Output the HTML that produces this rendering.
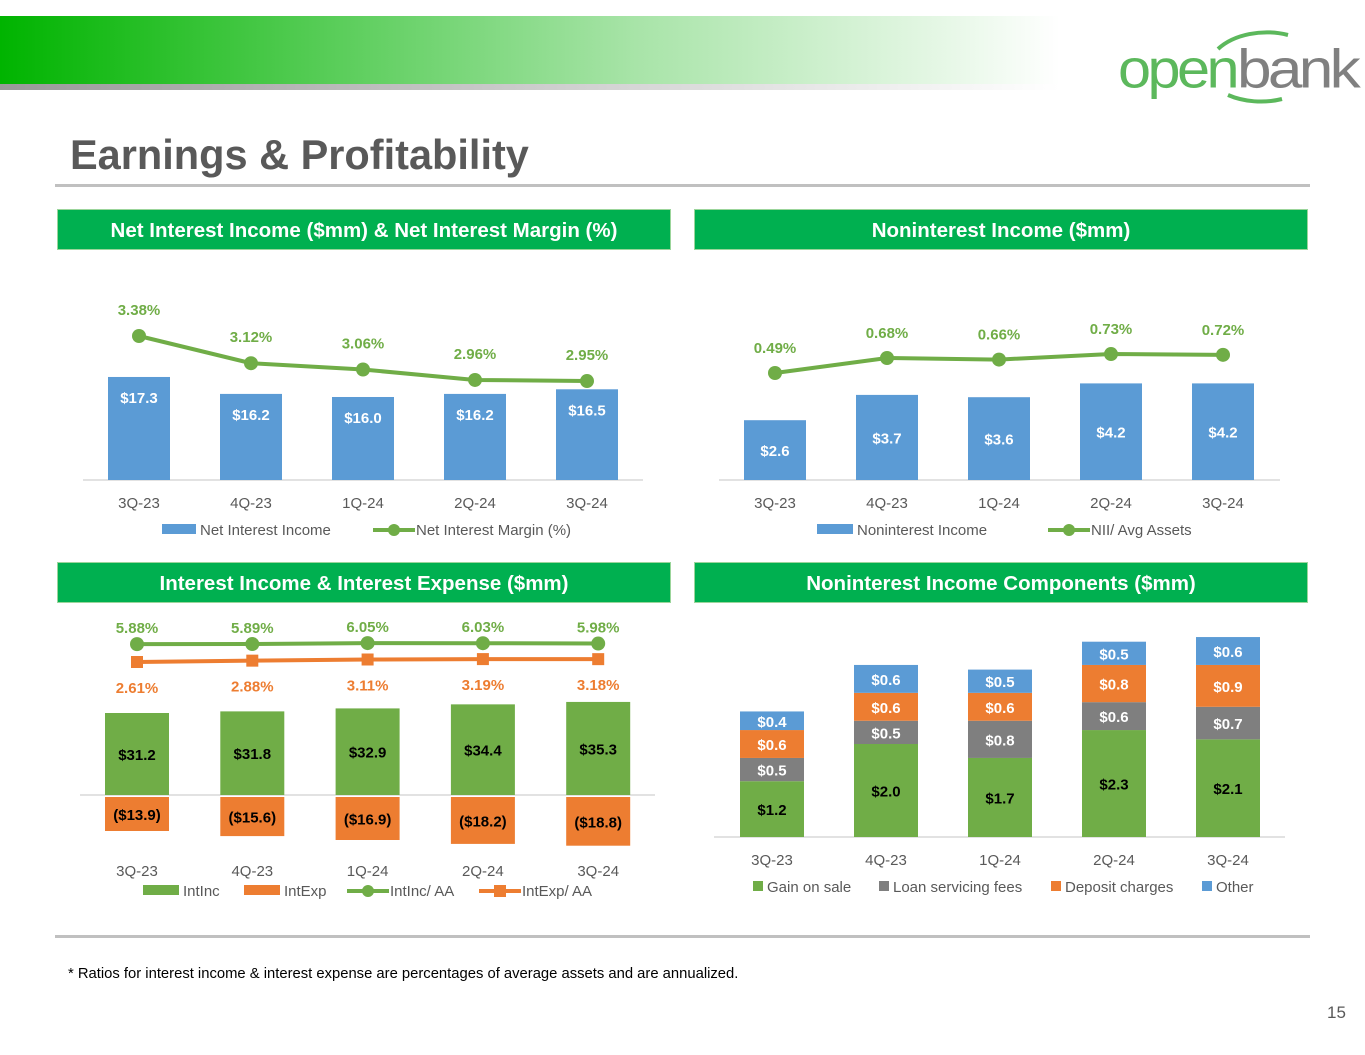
<!DOCTYPE html>
<html><head><meta charset="utf-8"><style>
body{margin:0;width:1365px;height:1055px;background:#fff;font-family:"Liberation Sans",sans-serif;position:relative;overflow:hidden}
.hb{position:absolute;background:#00b050;color:#fff;font-weight:bold;font-size:20.5px;text-align:center;line-height:41px;height:41px;border:1px solid #9bd59b;box-sizing:border-box}
svg text{font-family:"Liberation Sans",sans-serif}
</style></head><body>
<div style="position:absolute;left:0;top:16px;width:1060px;height:68px;background:linear-gradient(90deg,#00b400 0%,#55cc55 30%,#a8e4a8 60%,#e8f8e8 90%,#fff 100%)"></div>
<div style="position:absolute;left:0;top:84px;width:1060px;height:6px;background:linear-gradient(90deg,#999 0%,#ccc 50%,#fff 100%)"></div>
<svg style="position:absolute;left:1110px;top:15px" width="255" height="100">
<path d="M108 34 A60 40 0 0 1 178 20" stroke="#5cb85c" stroke-width="4" fill="none"/>
<path d="M118 80 A60 40 0 0 0 172 84" stroke="#5cb85c" stroke-width="4" fill="none"/>
<text x="8" y="66" font-size="50" fill="#5cb85c" transform="scale(1,1.1)" style="letter-spacing:-3px" textLength="118" lengthAdjust="spacingAndGlyphs">open</text>
<text x="127" y="66" font-size="50" fill="#808080" transform="scale(1,1.1)" style="letter-spacing:-3px" textLength="120" lengthAdjust="spacingAndGlyphs">bank</text>
</svg>
<div style="position:absolute;left:70px;top:131px;font-size:41.5px;font-weight:bold;color:#595959">Earnings &amp; Profitability</div>
<div style="position:absolute;left:55px;top:184px;width:1255px;height:3px;background:#c0c0c0"></div>
<div class="hb" style="left:57px;top:209px;width:614px">Net Interest Income ($mm) &amp; Net Interest Margin (%)</div>
<div class="hb" style="left:694px;top:209px;width:614px">Noninterest Income ($mm)</div>
<div class="hb" style="left:57px;top:562px;width:614px">Interest Income &amp; Interest Expense ($mm)</div>
<div class="hb" style="left:694px;top:562px;width:614px">Noninterest Income Components ($mm)</div>
<div style="position:absolute;left:55px;top:935px;width:1255px;height:3px;background:#c0c0c0"></div>
<div style="position:absolute;left:68px;top:966px;font-size:14.8px;color:#000">* Ratios for interest income &amp; interest expense are percentages of average assets and are annualized.</div>
<div style="position:absolute;left:1327px;top:1003px;font-size:17px;color:#595959">15</div>
<svg id="c" width="1365" height="1055" style="position:absolute;left:0;top:0"></svg>
<script>
const quarters=["3Q-23","4Q-23","1Q-24","2Q-24","3Q-24"];
const niiValues=[17.3,16.2,16.0,16.2,16.5];
const nimValues=[3.38,3.12,3.06,2.96,2.95];
const nonIntValues=[2.6,3.7,3.6,4.2,4.2];
const niiAvgAssets=[0.49,0.68,0.66,0.73,0.72];
const intIncValues=[31.2,31.8,32.9,34.4,35.3];
const intExpValues=[13.9,15.6,16.9,18.2,18.8];
const intIncAA=[5.88,5.89,6.05,6.03,5.98];
const intExpAA=[2.61,2.88,3.11,3.19,3.18];
const gainOnSale=[1.2,2.0,1.7,2.3,2.1];
const loanServicing=[0.5,0.5,0.8,0.6,0.7];
const depositCharges=[0.6,0.6,0.6,0.8,0.9];
const otherIncome=[0.4,0.6,0.5,0.5,0.6];
const S=document.getElementById('c');const NS="http://www.w3.org/2000/svg";
function el(t,a,txt){const e=document.createElementNS(NS,t);for(const k in a)e.setAttribute(k,a[k]);if(txt!==undefined)e.textContent=txt;S.appendChild(e);return e;}
const BLUE="#5b9bd5",GREEN="#70ad47",ORANGE="#ed7d31",GRAY="#7f7f7f",TXT="#595959";
const xs=(x0)=>i=>x0+i*112;
const x3=i=>137+i*115.3, x4=i=>772+i*114;
function axisLine(x1,x2,y,n){const e=el('line',{x1:x1,x2:x2,y1:y,y2:y,stroke:'#d9d9d9','stroke-width':1.5});}
function cat(x,y,t,n){const e=el('text',{x:x,y:y,'text-anchor':'middle','font-size':15,fill:TXT},t);}
function lbl(x,y,t,c,n,sz){const e=el('text',{x:x,y:y,'text-anchor':'middle','font-size':sz||15,'font-weight':'bold',fill:c},t);}
function bar(x,y,w,h,c,n){const e=el('rect',{x:x,y:y,width:w,height:h,fill:c});}
function line(pts,c,n,marker){const e=el('polyline',{points:pts.map(p=>p.join(',')).join(' '),fill:'none',stroke:c,'stroke-width':4});
 pts.forEach(p=>{let m;if(marker==='sq')m=el('rect',{x:p[0]-6,y:p[1]-6,width:12,height:12,fill:c});else m=el('circle',{cx:p[0],cy:p[1],r:7,fill:c});});}
function legRect(x,y,w,c,t,n){bar(x,y-6,w,10,c,n+'-swatch');const e=el('text',{x:x+w+4,y:y+5,'font-size':15,fill:TXT},t);}
function legLine(x,y,c,t,n,m){const e=el('line',{x1:x,x2:x+42,y1:y,y2:y,stroke:c,'stroke-width':4});
 let d;if(m==='sq')d=el('rect',{x:x+15,y:y-6,width:12,height:12,fill:c});else d=el('circle',{cx:x+21,cy:y,r:6,fill:c});
 const tt=el('text',{x:x+43,y:y+5,'font-size':15,fill:TXT},t);}
// Chart 1
const x1=xs(139),y1=v=>480-(v-10.61)*15.4,l1=v=>336-(v-3.38)*104.7;
axisLine(83,643,480,'nii-x-axis');
niiValues.forEach((v,i)=>{bar(x1(i)-31,y1(v),62,480-y1(v),BLUE,'nii-bar-'+quarters[i]);lbl(x1(i),y1(v)+26,'$'+v.toFixed(1),'#fff','nii-bar-label');cat(x1(i),508,quarters[i],'nii-x-tick');});
line(nimValues.map((v,i)=>[x1(i),l1(v)]),GREEN,'nim-line');
nimValues.forEach((v,i)=>lbl(x1(i),l1(v)-21,v.toFixed(2)+'%',GREEN,'nim-label'));
legRect(162,530,34,BLUE,'Net Interest Income','nii-legend');legLine(373,530,GREEN,'Net Interest Margin (%)','nim-legend');
// Chart 2
const x2=xs(775),y2=v=>480-v*23,l2=v=>373-(v-0.49)*79;
axisLine(719,1280,480,'nonint-x-axis');
nonIntValues.forEach((v,i)=>{bar(x2(i)-31,y2(v),62,480-y2(v),BLUE,'nonint-bar-'+quarters[i]);lbl(x2(i),(y2(v)+480)/2+6,'$'+v.toFixed(1),'#fff','nonint-bar-label');cat(x2(i),508,quarters[i],'nonint-x-tick');});
line(niiAvgAssets.map((v,i)=>[x2(i),l2(v)]),GREEN,'nii-aa-line');
niiAvgAssets.forEach((v,i)=>lbl(x2(i),l2(v)-20,v.toFixed(2)+'%',GREEN,'nii-aa-label'));
legRect(817,530,36,BLUE,'Noninterest Income','nonint-legend');legLine(1048,530,GREEN,'NII/ Avg Assets','nii-aa-legend');
// Chart 3
const yp=v=>795-82-(v-31.2)*2.7, yn=v=>795+36+(v-13.9)*3.0;
const a3=v=>644-(v-5.9)*6, b3=v=>662-(v-2.61)*5;
axisLine(80,655,795,'int-x-axis');
intIncValues.forEach((v,i)=>{const t=yp(v);bar(x3(i)-32,t,64,795-t,GREEN,'intinc-bar-'+quarters[i]);lbl(x3(i),(t+795)/2+6,'$'+v.toFixed(1),'#000','intinc-bar-label');cat(x3(i),876,quarters[i],'int-x-tick');});
intExpValues.forEach((v,i)=>{const b=yn(v);bar(x3(i)-32,797,64,b-797,ORANGE,'intexp-bar-'+quarters[i]);lbl(x3(i),(b+797)/2+6,'($'+v.toFixed(1)+')','#000','intexp-bar-label');});
line(intIncAA.map((v,i)=>[x3(i),a3(v)]),GREEN,'intinc-aa-line');
line(intExpAA.map((v,i)=>[x3(i),b3(v)]),ORANGE,'intexp-aa-line','sq');
intIncAA.forEach((v,i)=>lbl(x3(i),a3(v)-11,v.toFixed(2)+'%',GREEN,'intinc-aa-label'));
intExpAA.forEach((v,i)=>lbl(x3(i),b3(v)+31,v.toFixed(2)+'%',ORANGE,'intexp-aa-label'));
legRect(143,891,36,GREEN,'IntInc','intinc-legend');legRect(244,891,36,ORANGE,'IntExp','intexp-legend');
legLine(347,891,GREEN,'IntInc/ AA','intinc-aa-legend');legLine(479,891,ORANGE,'IntExp/ AA','intexp-aa-legend','sq');
// Chart 4
const k4=46.5;
axisLine(714,1285,837,'comp-x-axis');
const series4=[[gainOnSale,GREEN,'#000','gain-on-sale'],[loanServicing,GRAY,'#fff','loan-servicing'],[depositCharges,ORANGE,'#fff','deposit-charges'],[otherIncome,BLUE,'#fff','other']];
quarters.forEach((q,i)=>{let base=837;series4.forEach(s=>{const h=s[0][i]*k4;bar(x4(i)-32,base-h,64,h,s[1],s[3]+'-bar-'+q);lbl(x4(i),base-h/2+6,'$'+s[0][i].toFixed(1),s[2],s[3]+'-label');base-=h;});cat(x4(i),865,q,'comp-x-tick');});
[[753,'Gain on sale',GREEN,'gain-legend'],[879,'Loan servicing fees',GRAY,'loan-legend'],[1051,'Deposit charges',ORANGE,'deposit-legend'],[1202,'Other',BLUE,'other-legend']].forEach(l=>legRect(l[0],887,10,l[2],l[1],l[3]));
</script>
</body></html>
